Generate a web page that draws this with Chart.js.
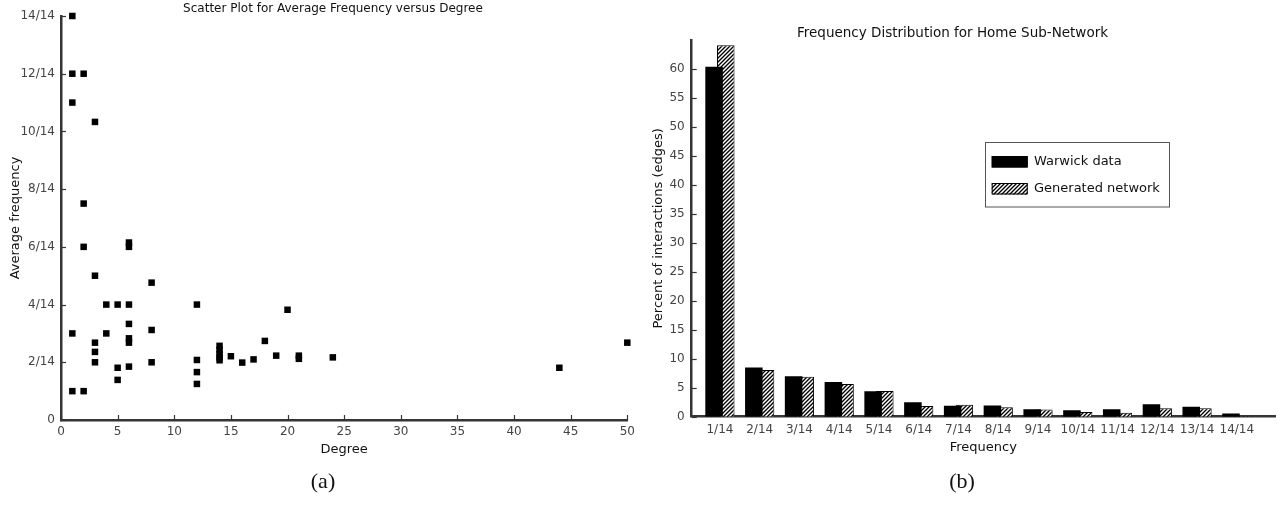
<!DOCTYPE html>
<html>
<head>
<meta charset="utf-8">
<script src="https://cdn.jsdelivr.net/npm/chart.js@4.4.1/dist/chart.umd.min.js"></script>
<style>
  html, body { margin: 0; padding: 0; background: #fff; }
  body { width: 1281px; height: 506px; position: relative; overflow: hidden; }
  #scatter { position: absolute; left: 0; top: 0; }
  #bars { position: absolute; left: 640px; top: 0; }
  .cap { position: absolute; top: 468px; transform: translateX(-50%);
         font-family: "Liberation Serif", "DejaVu Serif", serif; font-size: 22px; color: #111; }
  .ttl { position: absolute; transform: translateX(-50%); white-space: nowrap;
         font-family: "DejaVu Sans", "Lucida Grande", sans-serif; color: #111; }
</style>
</head>
<body>
<canvas id="scatter" width="640" height="470"></canvas>
<canvas id="bars" width="641" height="470"></canvas>
<div class="ttl" style="left:333px; top:1px; font-size:12px; line-height:14px">Scatter Plot for Average Frequency versus Degree</div>
<div class="ttl" style="left:952.5px; top:24px; font-size:13.5px; line-height:16px">Frequency Distribution for Home Sub-Network</div>
<div class="cap" style="left:323px">(a)</div>
<div class="cap" style="left:962px">(b)</div>
<script>
// ---- (a) degree of each node vs. its average frequency (in fourteenths) ----
const degree = [1, 1, 2, 1, 3, 2, 2, 6, 6, 3, 8, 4, 5, 6, 12, 20, 6, 1, 4, 8, 6, 6, 3, 18, 3,
                14, 14, 14, 14, 14, 15, 19, 21, 21, 17, 12, 16, 3, 8, 6, 5, 12, 5, 12, 1, 2, 24, 44, 50];
const avgFreq14 = [14, 12, 12, 11, 10.33, 7.5, 6, 6.15, 6, 5, 4.76, 4, 4, 4, 4, 3.82, 3.33, 3, 3, 3.12, 2.83, 2.68, 2.68, 2.74, 2.36,
                   2.57, 2.43, 2.29, 2.17, 2.07, 2.21, 2.23, 2.23, 2.12, 2.1, 2.08, 1.99, 2, 2, 1.85, 1.81, 1.66, 1.39, 1.25, 1, 1, 2.17, 1.81, 2.68];
const freqTickLabels = ['0', '2/14', '4/14', '6/14', '8/14', '10/14', '12/14', '14/14'];

// ---- (b) percentage of edges per frequency class ----
const freqCategories = ['1/14', '2/14', '3/14', '4/14', '5/14', '6/14', '7/14',
                        '8/14', '9/14', '10/14', '11/14', '12/14', '13/14', '14/14'];
const warwickData = [60.4, 8.5, 7.0, 6.0, 4.4, 2.5, 1.9, 1.95, 1.3, 1.1, 1.3, 2.15, 1.7, 0.55];
const generatedNetwork = [64.1, 8.05, 6.9, 5.65, 4.45, 1.85, 2.05, 1.65, 1.25, 0.8, 0.7, 1.45, 1.45, 0.1];

const FONT = '"DejaVu Sans", "Lucida Grande", sans-serif';
Chart.defaults.font.family = FONT;
Chart.defaults.color = '#444';

const AXIS = '#353535';

// short tick marks pointing into the plot area
const innerTicks = {
  id: 'innerTicks',
  beforeDatasetsDraw(chart, args, o) {
    const ctx = chart.ctx;
    ctx.save();
    ctx.strokeStyle = o.color;
    ctx.lineWidth = 1.2;
    (o.axes || []).forEach(id => {
      const s = chart.scales[id];
      s.ticks.forEach((t, i) => {
        if (o.skip && o.skip(id, t.value)) return;
        const p = Math.round(s.getPixelForTick(i)) + 0.5;
        ctx.beginPath();
        if (s.isHorizontal()) { ctx.moveTo(p, s.top); ctx.lineTo(p, s.top - o.length); }
        else { ctx.moveTo(s.right, p); ctx.lineTo(s.right + o.length, p); }
        ctx.stroke();
      });
    });
    ctx.restore();
  }
};

// boxed legend sitting inside the plot area
const boxLegend = {
  id: 'boxLegend',
  afterDraw(chart, args, o) {
    const { ctx, chartArea: ca } = chart;
    const x = Math.round(ca.left + o.left), y = Math.round(ca.top + o.top);
    ctx.save();
    ctx.fillStyle = '#fff';
    ctx.fillRect(x, y, o.width, o.height);
    ctx.strokeStyle = o.borderColor;
    ctx.lineWidth = 1;
    ctx.strokeRect(x + 0.5, y + 0.5, o.width, o.height);
    ctx.font = o.font;
    ctx.textBaseline = 'middle';
    chart.data.datasets.forEach((ds, i) => {
      const cy = y + o.rows[i];
      const sx = x + o.swatchX, sy = Math.round(cy - o.swatchH / 2);
      ctx.fillStyle = ds.backgroundColor;
      ctx.fillRect(sx, sy, o.swatchW, o.swatchH);
      ctx.strokeStyle = '#000';
      ctx.strokeRect(sx + 0.5, sy + 0.5, o.swatchW - 1, o.swatchH - 1);
      ctx.fillStyle = o.color;
      ctx.fillText(ds.label, x + o.textX, cy);
    });
    ctx.restore();
  }
};

function hatchPattern(ctx) {
  const c = document.createElement('canvas');
  c.width = 4; c.height = 4;
  const g = c.getContext('2d');
  g.fillStyle = '#fff';
  g.fillRect(0, 0, 4, 4);
  g.strokeStyle = '#000';
  g.lineWidth = 1.35;
  g.beginPath();
  g.moveTo(-1, 5); g.lineTo(5, -1);
  g.moveTo(-1, 1); g.lineTo(1, -1);
  g.moveTo(3, 5); g.lineTo(5, 3);
  g.stroke();
  return ctx.createPattern(c, 'repeat');
}

// ---------- (a) scatter ----------
new Chart(document.getElementById('scatter'), {
  type: 'scatter',
  data: {
    datasets: [{
      data: degree.map((d, i) => ({ x: d, y: avgFreq14[i] })),
      pointStyle: 'rect',
      pointRadius: 4.6,
      pointBorderWidth: 0,
      backgroundColor: '#000',
      borderColor: '#000',
      clip: false
    }]
  },
  options: {
    responsive: false,
    animation: false,
    events: [],
    layout: { padding: { left: 0, right: 12.7, top: 16, bottom: 0 } },
    plugins: {
      legend: { display: false },
      tooltip: { enabled: false },
      innerTicks: { axes: ['x', 'y'], length: 5, color: AXIS }
    },
    scales: {
      x: {
        type: 'linear', min: 0, max: 50,
        ticks: { stepSize: 5, padding: 5, color: '#444', font: { size: 12 }, maxRotation: 0 },
        grid: { display: false, drawTicks: false },
        border: { display: true, color: AXIS, width: 2.5 },
        title: { display: true, text: 'Degree', color: '#111', font: { size: 13 }, padding: { top: 0, bottom: 13 } },
        afterFit(s) { s.height = 50; }
      },
      y: {
        min: 0, max: 14,
        ticks: { stepSize: 2, padding: 6, color: '#444', font: { size: 12 },
                 callback: (v, i) => freqTickLabels[i] },
        grid: { display: false, drawTicks: false },
        border: { display: true, color: AXIS, width: 2.5 },
        title: { display: true, text: 'Average frequency', color: '#111', font: { size: 13 }, padding: { top: 8, bottom: 0 } },
        afterFit(s) { s.width = 61; }
      }
    }
  },
  plugins: [innerTicks]
});

// ---------- (b) grouped, overlapping bars ----------
const barCanvas = document.getElementById('bars');
const hatch = hatchPattern(barCanvas.getContext('2d'));

new Chart(barCanvas, {
  type: 'bar',
  data: {
    datasets: [
      {
        label: 'Warwick data',
        data: warwickData.map((v, i) => ({ x: i + 1, y: v })),
        backgroundColor: '#000',
        borderColor: '#000',
        borderWidth: 0
      },
      {
        label: 'Generated network',
        data: generatedNetwork.map((v, i) => ({ x: i + 1, y: v })),
        backgroundColor: hatch,
        borderColor: '#000',
        borderWidth: 1
      }
    ]
  },
  options: {
    responsive: false,
    animation: false,
    events: [],
    categoryPercentage: 0.588,
    barPercentage: 1.5,
    layout: { padding: { left: 0, right: 6, top: 40, bottom: 0 } },
    plugins: {
      legend: { display: false },
      tooltip: { enabled: false },
      innerTicks: { axes: ['y'], length: 5, color: AXIS, skip: (id, v) => v === 65 },
      boxLegend: {
        left: 293.3, top: 102.3, width: 184, height: 64.5,
        borderColor: '#555',
        swatchX: 6.7, swatchW: 36, swatchH: 11.5,
        textX: 49, rows: [19.4, 47],
        font: '13px ' + FONT, color: '#111'
      }
    },
    scales: {
      x: {
        type: 'linear', min: 0.29, max: 14.96, offset: false,
        ticks: { stepSize: 1, includeBounds: false, padding: 6, color: '#444', font: { size: 12 }, maxRotation: 0,
                 autoSkip: false, callback: v => freqCategories[v - 1] ?? '' },
        grid: { display: false, drawTicks: false },
        border: { display: true, color: AXIS, width: 2.5 },
        title: { display: true, text: 'Frequency', color: '#111', font: { size: 13 }, padding: { top: 0, bottom: 15 } },
        afterFit(s) { s.height = 53.3; }
      },
      y: {
        min: 0, max: 65,
        ticks: { stepSize: 5, padding: 7, color: '#444', font: { size: 12 },
                 callback: v => (v === 65 ? '' : v) },
        grid: { display: false, drawTicks: false },
        border: { display: true, color: AXIS, width: 2.5 },
        title: { display: true, text: 'Percent of interactions (edges)', color: '#111', font: { size: 13 }, padding: { top: 10.5, bottom: 0 } },
        afterFit(s) { s.width = 51.7; }
      }
    }
  },
  plugins: [innerTicks, boxLegend]
});
</script>
</body>
</html>
